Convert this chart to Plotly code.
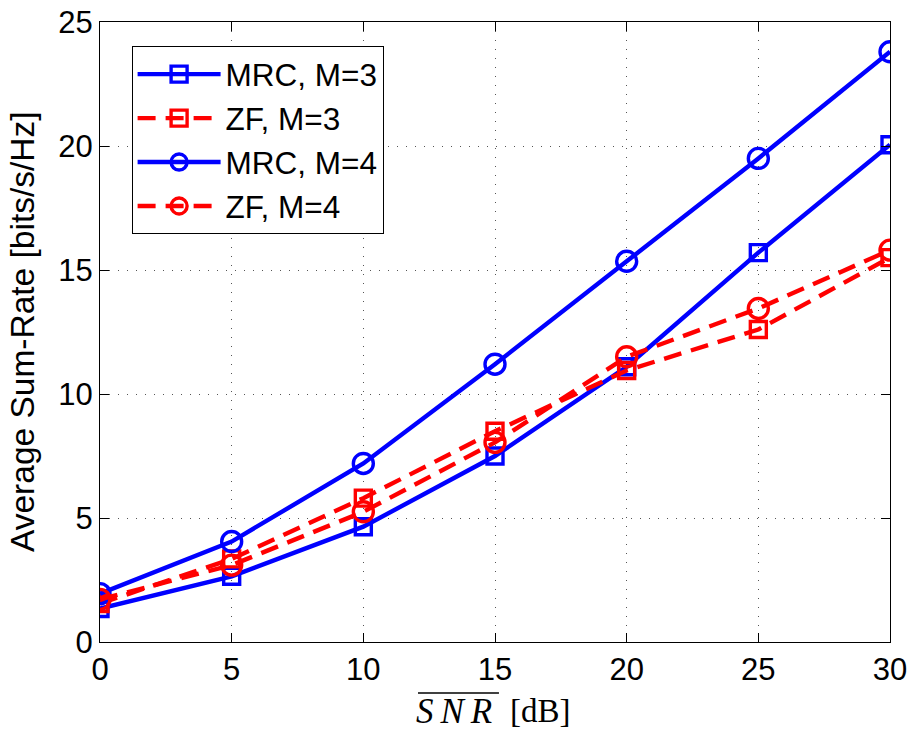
import plotly.graph_objects as go

# SNR points (dB)
snr_db = [0, 5, 10, 15, 20, 25, 30]

# Average sum-rate [bits/s/Hz]
mrc_m3 = [1.35, 2.65, 4.65, 7.5, 11.1, 15.7, 20.05]
zf_m3 = [1.55, 3.35, 5.8, 8.5, 10.95, 12.6, 15.5]
mrc_m4 = [1.95, 4.05, 7.2, 11.2, 15.35, 19.5, 23.8]
zf_m4 = [1.72, 3.1, 5.25, 8.05, 11.5, 13.45, 15.8]

series_names = ["MRC, M=3", "ZF, M=3", "MRC, M=4", "ZF, M=4"]

BLUE = "#0000ff"
RED = "#ff0000"
FONT = "Liberation Sans, Arial, sans-serif"
SERIF = "Liberation Serif, Times New Roman, serif"

fig = go.Figure()

styles = [
    (mrc_m3, BLUE, "solid", "square-open", 16),
    (zf_m3, RED, "18px,10px", "square-open", 16),
    (mrc_m4, BLUE, "solid", "circle-open", 20),
    (zf_m4, RED, "18px,10px", "circle-open", 20),
]

for name, (vals, color, dash, symbol, msize) in zip(series_names, styles):
    fig.add_trace(go.Scatter(
        x=snr_db, y=vals, name=name, mode="lines+markers",
        line=dict(color=color, width=4.4, dash=dash),
        marker=dict(symbol=symbol, size=msize, color=color,
                    line=dict(color=color, width=3.4)),
    ))

axis_common = dict(
    showline=True, linecolor="black", linewidth=1.2, mirror="ticks",
    ticks="inside", ticklen=9, tickcolor="black", tickwidth=1,
    showgrid=True, gridcolor="#555555", gridwidth=1, griddash="1px,8px",
    zeroline=False, automargin=False,
    tickfont=dict(family=FONT, size=31, color="black"),
)

fig.update_xaxes(range=[0, 30], tickvals=snr_db, **axis_common)
fig.update_yaxes(range=[0, 25], tickvals=[0, 5, 10, 15, 20, 25], **axis_common)

# y-axis title
fig.add_annotation(
    xref="paper", yref="paper", x=-0.0987, y=0.5,
    xanchor="center", yanchor="middle", showarrow=False, textangle=-90,
    text="Average Sum-Rate [bits/s/Hz]",
    font=dict(family=FONT, size=33.5, color="black"),
)

# x-axis title: overlined italic SNR followed by [dB]
fig.add_annotation(
    xref="paper", yref="paper", x=0.4475, y=-0.112,
    xanchor="center", yanchor="middle", showarrow=False,
    text="<i>S\u2009N\u2009R</i>",
    font=dict(family=SERIF, size=35, color="black"),
)
fig.add_annotation(
    xref="paper", yref="paper", x=0.5165, y=-0.112,
    xanchor="left", yanchor="middle", showarrow=False,
    text="[dB]",
    font=dict(family=SERIF, size=33, color="black"),
)
fig.add_shape(type="line", xref="paper", yref="paper",
              x0=0.4025, x1=0.505, y0=-0.0823, y1=-0.0823,
              line=dict(color="black", width=1.5))

fig.update_layout(
    width=914, height=734,
    margin=dict(l=100, r=24, t=22, b=92),
    paper_bgcolor="white", plot_bgcolor="white",
    showlegend=True,
    legend=dict(
        x=0.04, y=0.961, xanchor="left", yanchor="top",
        bgcolor="white", bordercolor="black", borderwidth=1,
        font=dict(family=FONT, size=31.5, color="black"),
        itemwidth=83, tracegroupgap=0,
    ),
)

fig.write_html("out.html")
